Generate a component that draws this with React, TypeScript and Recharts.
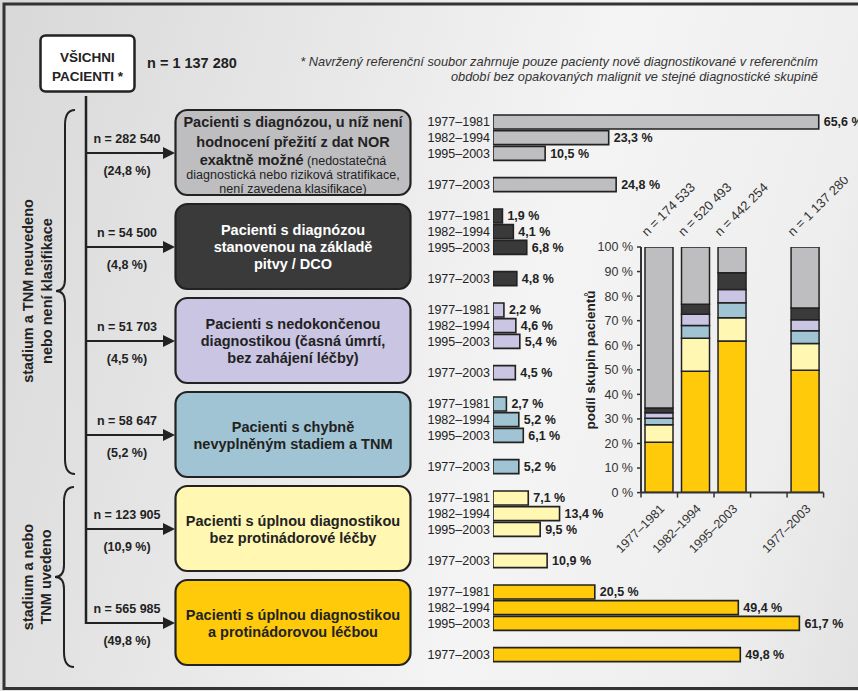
import React from "react";
import { BarChart, Bar, XAxis, YAxis, LabelList, Cell } from "recharts";

const periods = ["1977–1981", "1982–1994", "1995–2003"];
const totalPeriod = "1977–2003";

// podíl skupin (%) v obdobích, skupiny shora dolů
const share1977_1981 = [65.6, 1.9, 2.2, 2.7, 7.1, 20.5];
const share1982_1994 = [23.3, 4.1, 4.6, 5.2, 13.4, 49.4];
const share1995_2003 = [10.5, 6.8, 5.4, 6.1, 9.5, 61.7];
const share1977_2003 = [24.8, 4.8, 4.5, 5.2, 10.9, 49.8];

const groupCounts = ["282 540", "54 500", "51 703", "58 647", "123 905", "565 985"];
const groupPercents = ["(24,8 %)", "(4,8 %)", "(4,5 %)", "(5,2 %)", "(10,9 %)", "(49,8 %)"];
const columnCounts = ["174 533", "520 493", "442 254", "1 137 280"];
const yTicks = [0, 10, 20, 30, 40, 50, 60, 70, 80, 90, 100];

const groupColors = ["#bebec1", "#3a3a3a", "#c9c5e2", "#a0c4d3", "#fff7b2", "#ffca0a"];
const groupTextColors = ["#222", "#fff", "#222", "#222", "#222", "#222"];
const groupTitles = [
  [],
  ["Pacienti s diagnózou", "stanovenou na základě", "pitvy / DCO"],
  ["Pacienti s nedokončenou", "diagnostikou (časná úmrtí,", "bez zahájení léčby)"],
  ["Pacienti s chybně", "nevyplněným stadiem a TNM"],
  ["Pacienti s úplnou diagnostikou", "bez protinádorové léčby"],
  ["Pacienti s úplnou diagnostikou", "a protinádorovou léčbou"],
];

const fmt = (v) => v.toFixed(1).replace(".", ",") + " %";

// horizontal bars: 3 periods, gap, total, gap per group
const barRows = [];
groupColors.forEach((color, g) => {
  const shares = [share1977_1981[g], share1982_1994[g], share1995_2003[g]];
  periods.forEach((p, i) => barRows.push({ key: `${g}-${i}`, label: p, value: shares[i], color }));
  barRows.push({ key: `${g}-gap1`, label: "", value: null, color });
  barRows.push({ key: `${g}-t`, label: totalPeriod, value: share1977_2003[g], color });
  barRows.push({ key: `${g}-gap2`, label: "", value: null, color });
});
const rowLabel = {};
barRows.forEach((r) => (rowLabel[r.key] = r.label));

const columnShares = [share1977_1981, share1982_1994, share1995_2003, null, share1977_2003];
const columnPeriods = [...periods, "", totalPeriod];
const columnN = [columnCounts[0], columnCounts[1], columnCounts[2], "", columnCounts[3]];
const columns = columnPeriods.map((period, i) => {
  const row = { period, n: columnN[i] };
  const s = columnShares[i];
  if (s) s.forEach((v, g) => (row["g" + g] = v));
  return row;
});

const FONT = 'Arial, "Liberation Sans", Helvetica, sans-serif';
const COL_PLOT_W = 182.6;
const COL_HALF = COL_PLOT_W / columns.length / 2;

function PeriodTick(props) {
  const { x, y, payload, index } = props;
  const tx = x + 6;
  const ty = y + 17;
  return (
    <g>
      <line x1={x - COL_HALF} x2={x - COL_HALF} y1={y} y2={y + 5} stroke="#333" strokeWidth={1.5} />
      {index === columns.length - 1 && (
        <line x1={x + COL_HALF} x2={x + COL_HALF} y1={y} y2={y + 5} stroke="#333" strokeWidth={1.5} />
      )}
      {payload.value ? (
        <text x={tx} y={ty} transform={`rotate(-45 ${tx} ${ty})`} textAnchor="end" fontSize={12.5} fill="#333">
          {payload.value}
        </text>
      ) : null}
    </g>
  );
}

function CountLabel(props) {
  const { x, y, width, value } = props;
  if (!value) return null;
  const ax = Number(x) + Number(width) / 2 - 12;
  const ay = Number(y) - 10;
  return (
    <text x={ax} y={ay} transform={`rotate(-45 ${ax} ${ay})`} fontSize={13} fill="#333">
      {`n = ${value}`}
    </text>
  );
}

function ValueLabel(props) {
  const { x, y, width, height, value } = props;
  if (value == null) return null;
  return (
    <text
      x={Number(x) + Number(width) + 5}
      y={Number(y) + Number(height) / 2}
      dy="0.36em"
      fontSize={12.5}
      fontWeight="bold"
      fill="#222"
    >
      {fmt(value)}
    </text>
  );
}

function Brace({ x, y0, y1, ym }) {
  const xs = x - 10;
  const xp = x - 19;
  const d = `M ${x} ${y0} Q ${xs} ${y0} ${xs} ${y0 + 15} L ${xs} ${ym - 12} Q ${xs} ${ym} ${xp} ${ym} Q ${xs} ${ym} ${xs} ${ym + 12} L ${xs} ${y1 - 15} Q ${xs} ${y1} ${x} ${y1}`;
  return <path d={d} fill="none" stroke="#222" strokeWidth={2} />;
}

function Flowchart() {
  return (
    <svg width={858} height={691} style={{ position: "absolute", left: 0, top: 0 }}>
      <rect x={4} y={4} width={900} height={684.5} fill="none" stroke="#333" strokeWidth={3} />

      <rect x={40.5} y={35.5} width={94} height={56} rx={5} fill="#fff" stroke="#222" strokeWidth={2.5} />
      <text x={87.5} y={62} textAnchor="middle" fontSize={13.5} fontWeight="bold" fill="#222">VŠICHNI</text>
      <text x={87.5} y={81} textAnchor="middle" fontSize={13.5} fontWeight="bold" fill="#222">PACIENTI *</text>
      <text x={147} y={68} fontSize={14.5} fontWeight="bold" fill="#222">n = 1 137 280</text>

      <text x={818} y={66} textAnchor="end" fontSize={12.8} fontStyle="italic" fill="#333">
        * Navržený referenční soubor zahrnuje pouze pacienty nově diagnostikované v referenčním
      </text>
      <text x={818} y={81} textAnchor="end" fontSize={12.8} fontStyle="italic" fill="#333">
        období bez opakovaných malignit ve stejné diagnostické skupině
      </text>

      <line x1={86} x2={86} y1={96} y2={624} stroke="#222" strokeWidth={2.5} />

      <Brace x={75} y0={110} y1={474} ym={291} />
      <Brace x={74} y0={487} y1={667} ym={577} />
      <text transform="translate(33 291) rotate(-90)" textAnchor="middle" fontSize={14.5} fontWeight="bold" fill="#222">
        stadium a TNM neuvedeno
      </text>
      <text transform="translate(51.5 291) rotate(-90)" textAnchor="middle" fontSize={14.5} fontWeight="bold" fill="#222">
        nebo není klasifikace
      </text>
      <text transform="translate(33 577) rotate(-90)" textAnchor="middle" fontSize={14.5} fontWeight="bold" fill="#222">
        stadium a nebo
      </text>
      <text transform="translate(51 577) rotate(-90)" textAnchor="middle" fontSize={14.5} fontWeight="bold" fill="#222">
        TNM uvedeno
      </text>

      {groupColors.map((color, g) => {
        const ay = 153 + 94 * g;
        const lines = groupTitles[g];
        const offs = lines.length === 3 ? [-17, 0, 17] : [-8.5, 8.5];
        return (
          <g key={g}>
            <line x1={86} x2={165} y1={ay} y2={ay} stroke="#222" strokeWidth={2} />
            <polygon points={`163,${ay - 6} 175,${ay} 163,${ay + 6}`} fill="#222" />
            <text x={127} y={ay - 10} textAnchor="middle" fontSize={12.5} fontWeight="bold" fill="#222">
              {`n = ${groupCounts[g]}`}
            </text>
            <text x={127} y={ay + 22} textAnchor="middle" fontSize={12.5} fontWeight="bold" fill="#222">
              {groupPercents[g]}
            </text>
            <rect x={175.5} y={ay - 43} width={235} height={85} rx={12} fill={color} stroke="#222" strokeWidth={2.2} />
            {lines.map((t, i) => (
              <text key={i} x={293} y={ay + offs[i] + 5} textAnchor="middle" fontSize={14.5} fontWeight="bold" fill={groupTextColors[g]}>
                {t}
              </text>
            ))}
          </g>
        );
      })}
      <g fill="#222" textAnchor="middle">
        <text x={293} y={127} fontSize={14.5} fontWeight="bold">Pacienti s diagnózou, u níž není</text>
        <text x={293} y={147} fontSize={14.5} fontWeight="bold">hodnocení přežití z dat NOR</text>
        <text x={293} y={165}>
          <tspan fontSize={14.5} fontWeight="bold">exaktně možné</tspan>
          <tspan fontSize={12.5}> (nedostatečná</tspan>
        </text>
        <text x={293} y={178.5} fontSize={12.5}>diagnostická nebo riziková stratifikace,</text>
        <text x={293} y={192.5} fontSize={12.5}>není zavedena klasifikace)</text>
      </g>

      <text transform="translate(595 360) rotate(-90)" textAnchor="middle" fontSize={13.5} fontWeight="bold" fill="#222">
        podíl skupin pacientů
      </text>
    </svg>
  );
}

export default function App() {
  return (
    <div
      style={{
        position: "absolute",
        left: 0,
        top: 0,
        width: 858,
        height: 691,
        overflow: "hidden",
        fontFamily: FONT,
        background: "linear-gradient(105deg, #d8d8d8 0%, #e6e6e6 30%, #f4f4f4 60%, #eeeeee 85%, #e2e2e2 100%)",
      }}
    >
      <Flowchart />

      <div style={{ position: "absolute", left: 413, top: 114.2 }}>
        <BarChart
          layout="vertical"
          data={barRows}
          width={457.6}
          height={564}
          margin={{ top: 0, right: 30, bottom: 0, left: 0 }}
        >
          <XAxis type="number" domain={[0, 70]} allowDataOverflow hide />
          <YAxis
            type="category"
            dataKey="key"
            width={80}
            interval={0}
            tickLine={false}
            axisLine={false}
            tickSize={0}
            tickMargin={3}
            tickFormatter={(k) => rowLabel[k]}
            tick={{ fill: "#222", fontSize: 12.5 }}
          />
          <Bar dataKey="value" barSize={14} stroke="#222" strokeWidth={1.6} isAnimationActive={false}>
            {barRows.map((r) => (
              <Cell key={r.key} fill={r.color} />
            ))}
            <LabelList dataKey="value" content={<ValueLabel />} />
          </Bar>
        </BarChart>
      </div>

      <div style={{ position: "absolute", left: 590.7, top: 176.7 }}>
        <BarChart
          data={columns}
          width={272.6}
          height={395.6}
          margin={{ top: 70, right: 40, bottom: 0, left: 0 }}
        >
          <XAxis
            dataKey="period"
            height={80}
            interval={0}
            tickSize={0}
            tickMargin={0}
            tickLine={false}
            axisLine={{ stroke: "#333", strokeWidth: 2 }}
            tick={<PeriodTick />}
          />
          <YAxis
            domain={[0, 100]}
            allowDataOverflow
            ticks={yTicks}
            interval={0}
            width={50}
            tickSize={4}
            tickMargin={4}
            tickFormatter={(v) => `${v} %`}
            axisLine={{ stroke: "#333", strokeWidth: 2 }}
            tickLine={{ stroke: "#333", strokeWidth: 1.5 }}
            tick={{ fill: "#333", fontSize: 12.5 }}
          />
          {[5, 4, 3, 2, 1, 0].map((g) => (
            <Bar
              key={g}
              dataKey={"g" + g}
              stackId="a"
              barSize={28}
              fill={groupColors[g]}
              stroke="#222"
              strokeWidth={1.5}
              isAnimationActive={false}
            >
              {g === 0 && <LabelList dataKey="n" content={<CountLabel />} />}
            </Bar>
          ))}
        </BarChart>
      </div>
    </div>
  );
}
